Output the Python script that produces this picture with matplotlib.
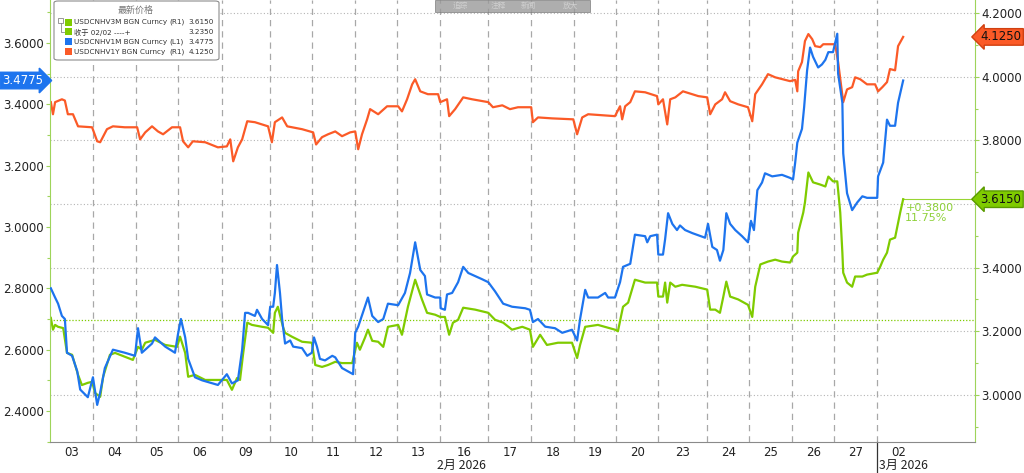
import matplotlib.pyplot as plt
import matplotlib.transforms as mtransforms
from matplotlib.patches import FancyBboxPatch, Rectangle
from matplotlib.ticker import MultipleLocator, FormatStrFormatter, FuncFormatter

plt.rcParams['font.family'] = ['DejaVu Sans', 'Noto Sans CJK SC']

# trading days on the x axis (time unit = one trading day, Mondays carry the weekend gap)
day_labels = ['03', '04', '05', '06', '09', '10', '11', '12', '13', '16',
              '17', '18', '19', '20', '23', '24', '25', '26', '27', '02']
day_edges = [0, 1.01, 2.02, 3.01, 4.05, 5.18, 6.16, 7.18, 8.16, 9.18,
             10.31, 11.32, 12.33, 13.32, 14.31, 15.46, 16.45, 17.46, 18.45, 19.46]
x_end = 21.76

# USDCNHV1M (left axis)
v1m_pts = [(0.02, 2.80), (0.12, 2.77), (0.19, 2.75), (0.28, 2.71), (0.35, 2.70), (0.40, 2.59),
           (0.52, 2.58), (0.64, 2.53), (0.71, 2.47), (0.89, 2.445), (1.01, 2.51), (1.11, 2.42),
           (1.18, 2.46), (1.29, 2.54), (1.48, 2.60), (1.76, 2.59), (2.00, 2.58), (2.07, 2.67),
           (2.16, 2.59), (2.40, 2.62), (2.47, 2.64), (2.71, 2.61), (2.94, 2.59), (3.01, 2.65),
           (3.08, 2.70), (3.18, 2.64), (3.25, 2.57), (3.41, 2.51), (3.58, 2.50), (3.95, 2.485),
           (4.16, 2.52), (4.28, 2.49), (4.42, 2.50), (4.52, 2.60), (4.59, 2.72), (4.66, 2.72),
           (4.82, 2.71), (4.87, 2.73), (4.99, 2.70), (5.13, 2.68), (5.18, 2.74), (5.25, 2.74),
           (5.29, 2.785), (5.34, 2.876), (5.41, 2.785), (5.46, 2.70), (5.53, 2.62), (5.65, 2.63),
           (5.72, 2.61), (5.93, 2.605), (6.05, 2.58), (6.16, 2.59), (6.21, 2.64), (6.28, 2.61),
           (6.35, 2.57), (6.47, 2.565), (6.64, 2.58), (6.71, 2.575), (6.87, 2.54), (7.13, 2.52),
           (7.18, 2.655), (7.25, 2.675), (7.36, 2.72), (7.48, 2.77), (7.58, 2.71), (7.72, 2.69),
           (7.84, 2.70), (7.95, 2.75), (8.19, 2.745), (8.35, 2.785), (8.47, 2.85), (8.59, 2.95),
           (8.71, 2.86), (8.82, 2.84), (8.87, 2.78), (9.06, 2.77), (9.18, 2.77), (9.19, 2.735),
           (9.29, 2.73), (9.34, 2.78), (9.46, 2.785), (9.60, 2.82), (9.72, 2.87), (9.84, 2.85),
           (10.0, 2.84), (10.16, 2.83), (10.31, 2.82), (10.47, 2.79), (10.66, 2.75), (10.87, 2.74),
           (11.18, 2.735), (11.29, 2.73), (11.36, 2.69), (11.48, 2.70), (11.65, 2.675), (11.88, 2.67),
           (12.05, 2.655), (12.28, 2.665), (12.40, 2.63), (12.47, 2.70), (12.59, 2.795), (12.66, 2.77),
           (12.89, 2.77), (13.06, 2.785), (13.13, 2.77), (13.29, 2.77), (13.41, 2.82), (13.48, 2.87),
           (13.65, 2.88), (13.76, 2.975), (14.0, 2.97), (14.05, 2.95), (14.12, 2.97), (14.28, 2.975),
           (14.31, 2.91), (14.42, 2.91), (14.47, 2.96), (14.54, 3.045), (14.64, 3.01), (14.75, 2.99),
           (14.82, 3.005), (14.94, 2.99), (15.11, 2.98), (15.41, 2.965), (15.48, 3.01), (15.58, 2.935),
           (15.69, 2.925), (15.76, 2.89), (15.84, 2.925), (15.91, 3.045), (16.0, 3.01), (16.12, 2.99),
           (16.28, 2.97), (16.42, 2.95), (16.49, 3.02), (16.56, 2.99), (16.64, 3.12), (16.75, 3.145),
           (16.82, 3.175), (16.99, 3.165), (17.22, 3.17), (17.41, 3.16), (17.48, 3.155), (17.53, 3.21),
           (17.58, 3.275), (17.69, 3.32), (17.74, 3.39), (17.81, 3.51), (17.88, 3.585), (17.95, 3.555),
           (18.07, 3.52), (18.16, 3.53), (18.24, 3.545), (18.31, 3.57), (18.42, 3.57), (18.52, 3.63),
           (18.54, 3.50), (18.64, 3.405), (18.66, 3.24), (18.75, 3.11), (18.87, 3.055), (18.99, 3.08),
           (19.11, 3.10), (19.22, 3.095), (19.46, 3.095), (19.48, 3.165), (19.60, 3.21), (19.69, 3.35),
           (19.76, 3.33), (19.88, 3.33), (19.95, 3.405), (20.07, 3.4775)]

# USDCNHV3M (right axis)
v3m_pts = [(0.02, 3.242), (0.07, 3.205), (0.12, 3.22), (0.19, 3.214), (0.31, 3.21), (0.40, 3.132),
           (0.52, 3.126), (0.66, 3.063), (0.75, 3.031), (0.89, 3.038), (0.99, 3.041), (1.06, 3.006),
           (1.18, 2.994), (1.25, 3.057), (1.41, 3.126), (1.53, 3.132), (1.76, 3.12), (1.95, 3.11),
           (2.07, 3.151), (2.16, 3.142), (2.24, 3.164), (2.47, 3.173), (2.71, 3.157), (2.99, 3.151),
           (3.06, 3.183), (3.18, 3.132), (3.25, 3.057), (3.41, 3.063), (3.65, 3.047), (3.95, 3.047),
           (4.16, 3.047), (4.28, 3.016), (4.40, 3.053), (4.47, 3.047), (4.54, 3.126), (4.64, 3.227),
           (4.75, 3.22), (4.99, 3.214), (5.13, 3.211), (5.25, 3.195), (5.29, 3.258), (5.36, 3.277),
           (5.48, 3.214), (5.53, 3.195), (5.69, 3.183), (5.93, 3.167), (6.16, 3.164), (6.24, 3.094),
           (6.40, 3.088), (6.54, 3.094), (6.71, 3.104), (6.87, 3.10), (7.11, 3.10), (7.22, 3.164),
           (7.29, 3.142), (7.41, 3.18), (7.48, 3.205), (7.58, 3.17), (7.72, 3.167), (7.84, 3.151),
           (7.95, 3.214), (8.19, 3.22), (8.28, 3.189), (8.42, 3.277), (8.59, 3.362), (8.75, 3.30),
           (8.87, 3.258), (9.06, 3.252), (9.18, 3.245), (9.29, 3.245), (9.39, 3.189), (9.48, 3.227),
           (9.60, 3.236), (9.72, 3.274), (10.0, 3.268), (10.31, 3.258), (10.47, 3.236), (10.66, 3.227),
           (10.87, 3.205), (11.11, 3.214), (11.29, 3.205), (11.36, 3.151), (11.53, 3.189), (11.69, 3.157),
           (11.95, 3.164), (12.28, 3.164), (12.40, 3.116), (12.47, 3.157), (12.59, 3.214), (12.89, 3.22),
           (13.29, 3.205), (13.36, 3.20), (13.48, 3.277), (13.60, 3.29), (13.76, 3.362), (14.0, 3.353),
           (14.28, 3.353), (14.31, 3.309), (14.42, 3.309), (14.47, 3.353), (14.52, 3.29), (14.59, 3.353),
           (14.71, 3.34), (14.87, 3.346), (15.18, 3.34), (15.46, 3.331), (15.53, 3.268), (15.65, 3.268),
           (15.76, 3.258), (15.84, 3.309), (15.91, 3.356), (16.0, 3.309), (16.19, 3.30), (16.42, 3.283),
           (16.52, 3.245), (16.59, 3.34), (16.71, 3.41), (16.89, 3.419), (17.06, 3.425), (17.22, 3.419),
           (17.41, 3.416), (17.48, 3.435), (17.58, 3.447), (17.60, 3.51), (17.72, 3.573), (17.76, 3.605),
           (17.84, 3.699), (17.95, 3.668), (18.12, 3.661), (18.24, 3.655), (18.31, 3.686), (18.42, 3.671),
           (18.52, 3.671), (18.59, 3.573), (18.64, 3.447), (18.66, 3.384), (18.75, 3.353), (18.87, 3.34),
           (18.94, 3.372), (19.11, 3.372), (19.22, 3.378), (19.46, 3.384), (19.53, 3.403), (19.60, 3.425),
           (19.69, 3.447), (19.76, 3.488), (19.88, 3.494), (20.0, 3.573), (20.07, 3.615)]

# USDCNHV1Y (right axis)
v1y_pts = [(0.02, 3.92), (0.07, 3.882), (0.12, 3.92), (0.28, 3.929), (0.35, 3.925), (0.42, 3.882),
           (0.54, 3.882), (0.66, 3.844), (0.99, 3.841), (1.11, 3.797), (1.18, 3.794), (1.34, 3.835),
           (1.48, 3.844), (1.76, 3.841), (2.05, 3.841), (2.12, 3.803), (2.24, 3.825), (2.40, 3.844),
           (2.54, 3.828), (2.66, 3.819), (2.87, 3.841), (3.06, 3.841), (3.13, 3.797), (3.25, 3.778),
           (3.36, 3.797), (3.65, 3.794), (3.95, 3.778), (4.16, 3.781), (4.24, 3.803), (4.31, 3.734),
           (4.42, 3.778), (4.52, 3.803), (4.64, 3.86), (4.82, 3.857), (5.13, 3.844), (5.22, 3.794),
           (5.29, 3.857), (5.46, 3.872), (5.58, 3.844), (5.93, 3.835), (6.19, 3.825), (6.26, 3.787),
           (6.40, 3.81), (6.54, 3.819), (6.71, 3.828), (6.87, 3.813), (7.06, 3.825), (7.18, 3.828),
           (7.25, 3.772), (7.34, 3.819), (7.46, 3.866), (7.53, 3.898), (7.72, 3.882), (7.93, 3.907),
           (8.19, 3.907), (8.28, 3.891), (8.40, 3.929), (8.52, 3.976), (8.59, 3.992), (8.71, 3.954),
           (8.89, 3.945), (9.13, 3.945), (9.18, 3.92), (9.34, 3.929), (9.39, 3.876), (9.53, 3.898),
           (9.72, 3.935), (9.93, 3.929), (10.31, 3.92), (10.42, 3.904), (10.64, 3.91), (10.82, 3.898),
           (11.01, 3.904), (11.32, 3.904), (11.36, 3.857), (11.48, 3.872), (11.81, 3.869), (12.31, 3.866),
           (12.40, 3.819), (12.52, 3.872), (12.66, 3.882), (13.29, 3.876), (13.41, 3.907), (13.46, 3.866),
           (13.53, 3.907), (13.65, 3.92), (13.76, 3.954), (14.0, 3.951), (14.28, 3.939), (14.31, 3.913),
           (14.42, 3.929), (14.52, 3.85), (14.59, 3.929), (14.71, 3.935), (14.89, 3.954), (15.25, 3.939),
           (15.46, 3.935), (15.53, 3.882), (15.65, 3.913), (15.81, 3.929), (15.88, 3.951), (16.0, 3.923),
           (16.19, 3.913), (16.42, 3.904), (16.52, 3.86), (16.59, 3.945), (16.75, 3.976), (16.89, 4.008),
           (17.06, 3.998), (17.41, 3.986), (17.53, 3.99), (17.58, 3.954), (17.60, 4.017), (17.69, 4.046),
           (17.76, 4.112), (17.84, 4.134), (17.93, 4.118), (18.0, 4.096), (18.12, 4.093), (18.19, 4.102),
           (18.47, 4.102), (18.54, 4.046), (18.64, 3.939), (18.66, 3.92), (18.75, 3.96), (18.87, 3.967),
           (18.94, 3.998), (19.06, 3.992), (19.22, 3.976), (19.41, 3.976), (19.48, 3.954), (19.58, 3.967),
           (19.69, 3.983), (19.76, 4.024), (19.88, 4.02), (19.95, 4.096), (20.07, 4.125)]

last_1m, last_3m, last_1y = 3.4775, 3.6150, 4.1250
close_3m = 3.2350
chg_text = '+0.3800\n11.75%'

blue = '#1d74ee'
green = '#7fcb00'
orange = '#fb5a27'
axis_green = '#9ed45a'

W, H = 1024, 473
fig = plt.figure(figsize=(W / 100, H / 100), dpi=100)
ax = fig.add_axes([50 / W, 31 / H, 925 / W, 442 / H])
ax2 = ax.twinx()
ax.set_zorder(ax2.get_zorder() + 1)
ax.patch.set_visible(False)

ax.set_xlim(0, x_end)
ax.set_ylim(2.299, 3.740)
ax2.set_ylim(2.852, 4.241)

# grid: right-axis horizontal dotted lines, day separators dashed
for yv in [3.0, 3.2, 3.4, 3.6, 3.8, 4.0, 4.2]:
    ax2.axhline(yv, color='#b4b4b4', lw=0.8, ls=(0, (1, 2)), zorder=0)
for xe in day_edges[1:]:
    ax2.axvline(xe, color='#a8a8a8', lw=0.9, ls=(0, (5, 4)), zorder=0)
ax2.axhline(close_3m, color=green, lw=0.9, ls=(0, (1, 1.5)), zorder=1)

t, v = zip(*v1y_pts)
ax2.plot(t, v, color=orange, lw=1.6, zorder=3)
t, v = zip(*v3m_pts)
ax2.plot(t, v, color=green, lw=1.6, zorder=3)
ax2.plot([t[-1], x_end], [last_3m, last_3m], color=green, lw=0.8, alpha=0.8, zorder=2)
ax2.text(t[-1] + 0.05, last_3m - 0.012, chg_text, color='#8fd13a', fontsize=8,
         va='top', ha='left', linespacing=1.05)
t, v = zip(*v1m_pts)
ax.plot(t, v, color=blue, lw=1.6, zorder=3)

# axes styling
for a in (ax, ax2):
    for s in a.spines.values():
        s.set_visible(False)
ax.spines['left'].set_visible(True)
ax.spines['left'].set_color(axis_green)
ax2.spines['right'].set_visible(True)
ax2.spines['right'].set_color(axis_green)
ax.spines['bottom'].set_visible(True)
ax.spines['bottom'].set_color('#8a8a8a')

ax.yaxis.set_major_locator(MultipleLocator(0.2))
ax.yaxis.set_minor_locator(MultipleLocator(0.1))
ax.yaxis.set_major_formatter(FormatStrFormatter('%.4f'))
ax2.yaxis.set_major_locator(MultipleLocator(0.2))
ax2.yaxis.set_minor_locator(MultipleLocator(0.1))
# the 3.6000 label on the right sits under the last-value tag
ax2.yaxis.set_major_formatter(FuncFormatter(
    lambda y, pos: '' if abs(y - last_3m) < 0.05 else '%.4f' % y))
for a in (ax, ax2):
    a.tick_params(axis='y', which='major', length=3, width=0.8, color=axis_green,
                  labelsize=8.5, labelcolor='#222222', pad=1.5)
    a.tick_params(axis='y', which='minor', length=2, width=0.8, color=axis_green)

centers = [(day_edges[i] + day_edges[i + 1]) / 2 for i in range(len(day_edges) - 1)]
centers.append(day_edges[-1] + 0.5)
ax.set_xticks(centers, day_labels)
ax.tick_params(axis='x', length=0, labelsize=8.5, labelcolor='#222222', pad=3)
ax2.tick_params(axis='x', length=0)

trans = mtransforms.blended_transform_factory(ax.transData, ax.transAxes)
ax.text(9.69, -0.054, '2月 2026', transform=trans, ha='center', va='center',
        fontsize=8.8, color='#222222', family=['Noto Sans CJK SC', 'DejaVu Sans'])
ax.text(day_edges[-1] + 0.03, -0.054, '3月 2026', transform=trans, ha='left', va='center',
        fontsize=8.8, color='#222222', family=['Noto Sans CJK SC', 'DejaVu Sans'])
ax.plot([day_edges[-1], day_edges[-1]], [0, -0.072], transform=trans, color='#333333',
        lw=0.9, clip_on=False)

# value tags on the axes
ax.text(-0.052, last_1m, '%.4f' % last_1m, transform=ax.get_yaxis_transform(),
        ha='left', va='center', fontsize=8.5, color='white',
        bbox=dict(boxstyle='rarrow,pad=0.15', fc=blue, ec=blue))
ax2.text(1.006, last_1y, '%.4f' % last_1y, transform=ax2.get_yaxis_transform(),
         ha='left', va='center', fontsize=8.5, color='#111111',
         bbox=dict(boxstyle='larrow,pad=0.15', fc=orange, ec='#d04010'))
ax2.text(1.006, last_3m, '%.4f' % last_3m, transform=ax2.get_yaxis_transform(),
         ha='left', va='center', fontsize=8.5, color='#111111',
         bbox=dict(boxstyle='larrow,pad=0.15', fc=green, ec='#5a9a00'))

# legend panel (pixel positions converted to figure fraction)
def fx(px):
    return px / W

def fy(py):
    return 1 - py / H

fig.patches.append(FancyBboxPatch((fx(54), fy(60)), fx(165), 59 / H,
                                  boxstyle='round,pad=0,rounding_size=0.004',
                                  transform=fig.transFigure, fc='white', ec='#8c8c8c', lw=0.8))
fig.text(fx(136), fy(10), '最新价格', ha='center', va='center', fontsize=6.5,
         color='#777777', family=['Noto Sans CJK SC', 'DejaVu Sans'])
rows = [(green, 'USDCNHV3M BGN Curncy', '(R1)', '%.4f' % last_3m, 22),
        (green, '收于 02/02 ----+', '', '%.4f' % close_3m, 32),
        (blue, 'USDCNHV1M BGN Curncy', '(L1)', '%.4f' % last_1m, 42),
        (orange, 'USDCNHV1Y BGN Curncy', '(R1)', '%.4f' % last_1y, 52)]
for col, name, side, val, py in rows:
    fig.patches.append(Rectangle((fx(65), fy(py + 3.5)), 7 / W, 7 / H, transform=fig.transFigure,
                                 fc=col, ec='none'))
    fig.text(fx(74), fy(py), name, ha='left', va='center', fontsize=5.2, color='#333333')
    if side:
        fig.text(fx(169), fy(py), side, ha='left', va='center', fontsize=5.2, color='#333333')
    fig.text(fx(214), fy(py), val, ha='right', va='center', fontsize=5.2, color='#333333')
fig.patches.append(Rectangle((fx(58), fy(23)), 5 / W, 5 / H, transform=fig.transFigure,
                             fc='white', ec='#888888', lw=0.6))
fig.lines.append(plt.Line2D([fx(60.5), fx(60.5), fx(64)], [fy(23), fy(32), fy(32)],
                            transform=fig.transFigure, color='#888888', lw=0.6))

# faint toolbar at the top
fig.patches.append(Rectangle((fx(435), fy(12)), 155 / W, 12 / H, transform=fig.transFigure,
                             fc='#9a9a9a', ec='#7a7a7a', lw=0.6, alpha=0.8))
for px, lab in [(460, '追踪'), (498, '注释'), (528, '新闻'), (570, '放大')]:
    fig.text(fx(px), fy(6), lab, ha='center', va='center', fontsize=5.5, color='#d0d0d0',
             family=['Noto Sans CJK SC', 'DejaVu Sans'])

fig.savefig('out.png', dpi=100)
